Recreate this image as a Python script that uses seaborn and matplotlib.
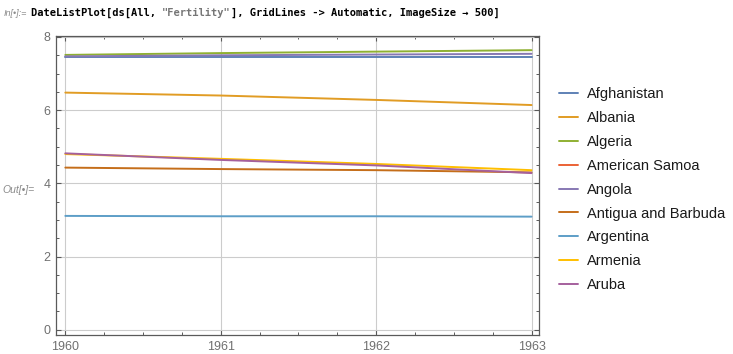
import numpy as np
import pandas as pd
import matplotlib
matplotlib.use("Agg")
import matplotlib.pyplot as plt
import seaborn as sns
from matplotlib.lines import Line2D
from matplotlib.ticker import MultipleLocator

years = [1960, 1961, 1962, 1963]
countries = ["Afghanistan", "Albania", "Algeria", "American Samoa", "Angola",
             "Antigua and Barbuda", "Argentina", "Armenia", "Aruba"]
afghanistan = [7.45, 7.45, 7.45, 7.45]
albania = [6.48, 6.40, 6.28, 6.14]
algeria = [7.51, 7.56, 7.60, 7.64]
american_samoa = [np.nan, np.nan, np.nan, np.nan]
angola = [7.47, 7.50, 7.52, 7.54]
antigua = [4.43, 4.39, 4.36, 4.30]
argentina = [3.11, 3.10, 3.10, 3.09]
armenia = [4.80, 4.67, 4.53, 4.36]
aruba = [4.82, 4.64, 4.49, 4.28]
series = [afghanistan, albania, algeria, american_samoa, angola,
          antigua, argentina, armenia, aruba]
colors = ["#5E81B5", "#E19C24", "#8FB032", "#EB6235", "#8778B3",
          "#C56E1A", "#5D9EC7", "#FFBF00", "#A5609D"]
y_ticks = [0, 2, 4, 6, 8]

rows = []
for c, vals in zip(countries, series):
    for yr, v in zip(years, vals):
        rows.append({"Year": yr, "Country": c, "Fertility": v})
df = pd.DataFrame(rows)

sns.set_theme(style="white")
plt.rcParams['font.family'] = ['Liberation Sans', 'DejaVu Sans']

fig = plt.figure(figsize=(7.33, 3.54), dpi=100)
ax = fig.add_axes([56 / 733, 19 / 354, (539.3 - 56) / 733, (335 - 36) / 354])

palette = dict(zip(countries, colors))
sns.lineplot(data=df.dropna(), x="Year", y="Fertility", hue="Country",
             hue_order=countries, palette=palette, ax=ax, legend=False,
             linewidth=1.4, estimator=None)

ax.set_xlim(1959.94, 1963.05)
ax.set_ylim(-0.145, 8.027)
ax.set_xticks(years)
ax.set_xticklabels([str(y) for y in years])
ax.set_yticks(y_ticks)
ax.set_yticklabels([str(t) for t in y_ticks])
ax.xaxis.set_minor_locator(MultipleLocator(0.25))
ax.yaxis.set_minor_locator(MultipleLocator(0.5))
ax.set_xlabel("")
ax.set_ylabel("")

ax.grid(True, which="major", color="#cccccc", linewidth=0.8)
ax.set_axisbelow(True)
for s in ax.spines.values():
    s.set_visible(True)
    s.set_color("#5a5a5a")
    s.set_linewidth(0.9)

ax.tick_params(which="both", direction="in", top=True, right=True,
               bottom=True, left=True, color="#5a5a5a", labelcolor="#707070",
               labelsize=9)
ax.tick_params(which="major", length=3.5, width=0.8)
ax.tick_params(which="minor", length=2.2, width=0.7)
ax.tick_params(axis="y", pad=4)
ax.tick_params(axis="x", pad=4.5)

handles = [Line2D([0], [0], color=c, lw=1.4) for c in colors]
fig.legend(handles, countries, loc="upper left",
           bbox_to_anchor=(559 / 733, 1 - 87 / 354), frameon=False,
           fontsize=10.5, handlelength=1.3, handletextpad=0.6,
           labelspacing=0.68, labelcolor="#1a1a1a", borderaxespad=0,
           borderpad=0)

# notebook labels
fig.text(4 / 733, 1 - 13 / 354, "In[\u2022]:=", fontsize=6.5, style="italic",
         color="#8a8a8a", va="center", ha="left")
fig.text(2 / 733, 1 - 190 / 354, "Out[\u2022]=", fontsize=7.5, style="italic",
         color="#8a8a8a", va="center", ha="left")

# code line with grey string
pre = 'DateListPlot[ds[All, '
mid = '"Fertility"'
post = '], GridLines -> Automatic, ImageSize \u2192 500]'
fs = 7.5
t = fig.text(31 / 733, 1 - 13 / 354, pre, fontsize=fs, weight="bold",
             family="DejaVu Sans Mono", color="#000000", va="center", ha="left")
fig.canvas.draw()
r = fig.canvas.get_renderer()
bb = t.get_window_extent(r)
t2 = fig.text(bb.x1 / 733, 1 - 13 / 354, mid, fontsize=fs, weight="bold",
              family="DejaVu Sans Mono", color="#767676", va="center", ha="left")
bb2 = t2.get_window_extent(r)
fig.text(bb2.x1 / 733, 1 - 13 / 354, post, fontsize=fs, weight="bold",
         family="DejaVu Sans Mono", color="#000000", va="center", ha="left")

fig.savefig("out.png", dpi=100)
